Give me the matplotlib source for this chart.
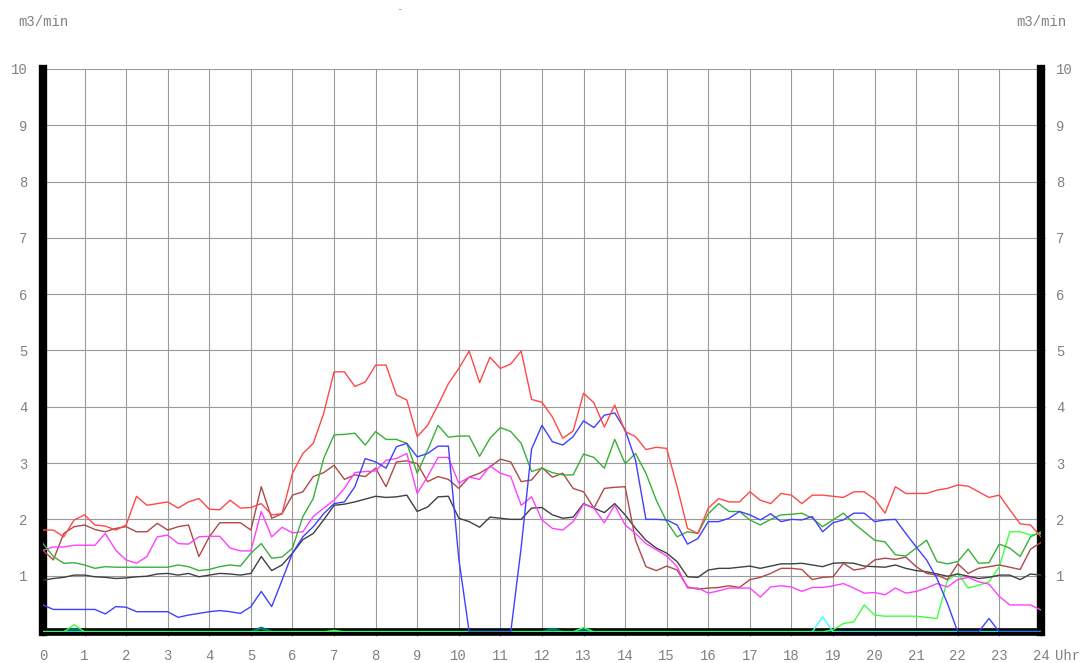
import numpy as np
import matplotlib
matplotlib.use("Agg")
import matplotlib.pyplot as plt

# Zeitachse: Viertelstundenwerte 0..24 Uhr
stunden = np.linspace(0, 24, 97)

rot = [
    1.81, 1.81, 1.69, 1.99,
    2.08, 1.90, 1.88, 1.81,
    1.90, 2.41, 2.25, 2.28,
    2.31, 2.20, 2.31, 2.37,
    2.18, 2.17, 2.34, 2.20,
    2.21, 2.28, 2.08, 2.10,
    2.82, 3.17, 3.35, 3.88,
    4.62, 4.62, 4.36, 4.44,
    4.74, 4.74, 4.21, 4.12,
    3.47, 3.67, 4.03, 4.41,
    4.68, 4.99, 4.43, 4.88,
    4.68, 4.76, 4.99, 4.13,
    4.08, 3.82, 3.44, 3.57,
    4.24, 4.07, 3.64, 4.03,
    3.56, 3.47, 3.24, 3.28,
    3.26, 2.58, 1.84, 1.75,
    2.20, 2.37, 2.31, 2.31,
    2.49, 2.34, 2.28, 2.46,
    2.43, 2.28, 2.43, 2.43,
    2.41, 2.39, 2.49, 2.49,
    2.36, 2.11, 2.58, 2.46,
    2.46, 2.46, 2.52, 2.55,
    2.61, 2.59, 2.49, 2.39,
    2.43, 2.17, 1.92, 1.90,
    1.69,
]

braun = [
    1.45, 1.28, 1.75, 1.87,
    1.90, 1.82, 1.78, 1.84,
    1.87, 1.78, 1.78, 1.93,
    1.81, 1.87, 1.90, 1.34,
    1.69, 1.94, 1.94, 1.94,
    1.81, 2.58, 2.02, 2.10,
    2.43, 2.49, 2.76, 2.83,
    2.96, 2.71, 2.79, 2.76,
    2.91, 2.58, 3.02, 3.04,
    2.99, 2.67, 2.76, 2.71,
    2.55, 2.75, 2.82, 2.93,
    3.07, 3.02, 2.67, 2.70,
    2.92, 2.75, 2.82, 2.55,
    2.49, 2.20, 2.55, 2.57,
    2.58, 1.63, 1.16, 1.09,
    1.17, 1.10, 0.80, 0.76,
    0.78, 0.79, 0.82, 0.79,
    0.93, 0.97, 1.04, 1.13,
    1.13, 1.11, 0.93, 0.97,
    0.98, 1.22, 1.10, 1.13,
    1.28, 1.31, 1.29, 1.33,
    1.16, 1.04, 1.01, 0.93,
    1.21, 1.04, 1.13, 1.16,
    1.19, 1.15, 1.11, 1.47,
    1.59,
]

rosa = [
    1.45, 1.51, 1.51, 1.54,
    1.54, 1.54, 1.75, 1.45,
    1.28, 1.22, 1.34, 1.69,
    1.72, 1.57, 1.56, 1.69,
    1.70, 1.70, 1.49, 1.44,
    1.44, 2.14, 1.69, 1.86,
    1.76, 1.78, 2.05, 2.20,
    2.34, 2.55, 2.83, 2.85,
    2.86, 3.05, 3.08, 3.17,
    2.46, 2.76, 3.10, 3.10,
    2.64, 2.75, 2.71, 2.95,
    2.82, 2.76, 2.25, 2.40,
    1.99, 1.84, 1.81, 1.96,
    2.27, 2.20, 1.94, 2.25,
    1.90, 1.75, 1.57, 1.46,
    1.35, 1.16, 0.78, 0.78,
    0.69, 0.73, 0.78, 0.78,
    0.78, 0.62, 0.80, 0.82,
    0.80, 0.72, 0.79, 0.79,
    0.82, 0.86, 0.78, 0.69,
    0.70, 0.66, 0.78, 0.69,
    0.72, 0.78, 0.86, 0.80,
    0.93, 0.97, 0.89, 0.85,
    0.63, 0.48, 0.48, 0.48,
    0.39,
]

gruen = [
    1.57, 1.34, 1.22, 1.23,
    1.19, 1.13, 1.16, 1.15,
    1.15, 1.15, 1.15, 1.15,
    1.15, 1.19, 1.16, 1.09,
    1.11, 1.16, 1.19, 1.17,
    1.40, 1.57, 1.31, 1.33,
    1.49, 2.05, 2.37, 3.08,
    3.50, 3.51, 3.53, 3.32,
    3.56, 3.42, 3.42, 3.35,
    2.82, 3.23, 3.67, 3.46,
    3.48, 3.48, 3.12, 3.44,
    3.63, 3.56, 3.35, 2.85,
    2.91, 2.83, 2.79, 2.79,
    3.16, 3.10, 2.91, 3.42,
    2.99, 3.17, 2.82, 2.34,
    1.96, 1.69, 1.78, 1.75,
    2.10, 2.28, 2.14, 2.14,
    1.99, 1.90, 2.00, 2.08,
    2.09, 2.11, 2.02, 1.87,
    1.99, 2.11, 1.93, 1.78,
    1.63, 1.60, 1.37, 1.35,
    1.49, 1.63, 1.25, 1.21,
    1.25, 1.47, 1.22, 1.23,
    1.56, 1.49, 1.34, 1.69,
    1.78,
]

schwarz = [
    0.92, 0.95, 0.97, 1.01,
    1.01, 0.98, 0.97, 0.95,
    0.96, 0.98, 0.99, 1.03,
    1.04, 1.01, 1.04, 0.98,
    1.01, 1.04, 1.03, 1.01,
    1.04, 1.34, 1.09, 1.19,
    1.40, 1.64, 1.75, 1.99,
    2.25, 2.27, 2.31, 2.36,
    2.41, 2.39, 2.40, 2.43,
    2.14, 2.22, 2.40, 2.41,
    2.02, 1.96, 1.86, 2.04,
    2.02, 2.00, 2.00, 2.20,
    2.21, 2.08, 2.02, 2.04,
    2.28, 2.20, 2.12, 2.28,
    2.08, 1.84, 1.63, 1.49,
    1.40, 1.25, 0.98, 0.97,
    1.10, 1.13, 1.13, 1.15,
    1.17, 1.13, 1.17, 1.21,
    1.21, 1.22, 1.19, 1.16,
    1.22, 1.23, 1.22, 1.17,
    1.16, 1.15, 1.19, 1.13,
    1.09, 1.07, 1.03, 0.99,
    1.03, 0.99, 0.95, 0.97,
    1.01, 1.01, 0.93, 1.03,
    1.01,
]

blau = [
    0.48, 0.40, 0.40, 0.40,
    0.40, 0.40, 0.32, 0.45,
    0.44, 0.36, 0.36, 0.36,
    0.36, 0.26, 0.30, 0.33,
    0.36, 0.38, 0.36, 0.33,
    0.45, 0.72, 0.45, 0.92,
    1.40, 1.69, 1.87, 2.10,
    2.28, 2.31, 2.58, 3.08,
    3.02, 2.91, 3.29, 3.35,
    3.11, 3.17, 3.30, 3.30,
    1.30, 0.00, 0.00, 0.00,
    0.00, 0.00, 1.50, 3.25,
    3.67, 3.38, 3.32, 3.47,
    3.75, 3.63, 3.85, 3.89,
    3.59, 3.05, 2.00, 2.00,
    1.99, 1.90, 1.56, 1.66,
    1.96, 1.96, 2.02, 2.14,
    2.08, 1.99, 2.10, 1.96,
    2.00, 1.99, 2.05, 1.78,
    1.94, 1.99, 2.11, 2.11,
    1.96, 1.99, 2.00, 1.75,
    1.51, 1.28, 0.95, 0.51,
    0.00, 0.00, 0.00, 0.24,
    0.00, 0.00, 0.00, 0.00,
    0.00,
]

hellgruen = [
    0.00, 0.00, 0.00, 0.13,
    0.00, 0.00, 0.00, 0.00,
    0.00, 0.00, 0.00, 0.00,
    0.00, 0.00, 0.00, 0.00,
    0.00, 0.00, 0.00, 0.00,
    0.00, 0.00, 0.00, 0.00,
    0.00, 0.00, 0.00, 0.00,
    0.03, 0.00, 0.00, 0.00,
    0.00, 0.00, 0.00, 0.00,
    0.00, 0.00, 0.00, 0.00,
    0.00, 0.00, 0.00, 0.00,
    0.00, 0.00, 0.00, 0.00,
    0.00, 0.00, 0.00, 0.00,
    0.08, 0.00, 0.00, 0.00,
    0.00, 0.00, 0.00, 0.00,
    0.00, 0.00, 0.00, 0.00,
    0.00, 0.00, 0.00, 0.00,
    0.00, 0.00, 0.00, 0.00,
    0.00, 0.00, 0.00, 0.00,
    0.04, 0.15, 0.18, 0.48,
    0.30, 0.28, 0.28, 0.28,
    0.28, 0.26, 0.24, 0.92,
    1.04, 0.78, 0.83, 0.89,
    1.16, 1.78, 1.78, 1.72,
    1.75,
]

cyan = [
    0.00, 0.00, 0.00, 0.00,
    0.00, 0.00, 0.00, 0.00,
    0.00, 0.00, 0.00, 0.00,
    0.00, 0.00, 0.00, 0.00,
    0.00, 0.00, 0.00, 0.00,
    0.00, 0.00, 0.00, 0.00,
    0.00, 0.00, 0.00, 0.00,
    0.00, 0.00, 0.00, 0.00,
    0.00, 0.00, 0.00, 0.00,
    0.00, 0.00, 0.00, 0.00,
    0.00, 0.00, 0.00, 0.00,
    0.00, 0.00, 0.00, 0.00,
    0.00, 0.00, 0.00, 0.00,
    0.00, 0.00, 0.00, 0.00,
    0.00, 0.00, 0.00, 0.00,
    0.00, 0.00, 0.00, 0.00,
    0.00, 0.00, 0.00, 0.00,
    0.00, 0.00, 0.00, 0.00,
    0.00, 0.00, 0.00, 0.27,
    0.00, 0.00, 0.00, 0.00,
    0.00, 0.00, 0.00, 0.00,
    0.00, 0.00, 0.00, 0.00,
    0.00, 0.00, 0.00, 0.00,
    0.00, 0.00, 0.00, 0.00,
    0.00,
]

tuerkis = [
    0.00, 0.00, 0.00, 0.05,
    0.00, 0.00, 0.00, 0.00,
    0.00, 0.00, 0.00, 0.00,
    0.00, 0.00, 0.00, 0.00,
    0.00, 0.00, 0.00, 0.00,
    0.00, 0.07, 0.00, 0.00,
    0.00, 0.00, 0.00, 0.00,
    0.00, 0.00, 0.00, 0.00,
    0.00, 0.00, 0.00, 0.00,
    0.00, 0.00, 0.00, 0.00,
    0.00, 0.00, 0.00, 0.00,
    0.00, 0.00, 0.00, 0.00,
    0.00, 0.05, 0.00, 0.00,
    0.05, 0.00, 0.00, 0.00,
    0.00, 0.00, 0.00, 0.00,
    0.00, 0.00, 0.00, 0.00,
    0.00, 0.00, 0.00, 0.00,
    0.00, 0.00, 0.00, 0.00,
    0.00, 0.00, 0.00, 0.00,
    0.00, 0.00, 0.00, 0.00,
    0.00, 0.00, 0.00, 0.00,
    0.00, 0.00, 0.00, 0.00,
    0.00, 0.00, 0.00, 0.00,
    0.00, 0.00, 0.00, 0.00,
    0.00,
]

# dunkelgruen gibt es nur bis 18:15 Uhr
dunkelgruen = [0.0] * 74

x_labels = [str(h) for h in range(25)]
y_labels = [str(v) for v in range(1, 11)]

schrift = "Liberation Mono"
grau = "#808080"

fig = plt.figure(figsize=(10.85, 6.63), dpi=100)
ax = fig.add_axes([0.0396, 0.0468, 0.9198, 0.8492])

ax.set_xlim(0, 24)
ax.set_ylim(0, 10)
ax.set_xticks(range(25))
ax.set_xticklabels(x_labels)
ax.set_yticks(range(1, 11))
ax.set_yticklabels(y_labels)
ax.grid(True, color="#9a9a9a", linewidth=0.8)
ax.set_axisbelow(True)

ax.plot(stunden, tuerkis, color="#007878", lw=2.0, zorder=3)
ax.plot(stunden[:len(dunkelgruen)], dunkelgruen, color="#006400", lw=2.4, zorder=3.5)
ax.plot(stunden, cyan, color="#40ffff", lw=1.0, zorder=4)
ax.plot(stunden, hellgruen, color="#40ff40", lw=1.0, zorder=4)
ax.plot(stunden, schwarz, color="#404040", lw=1.0, zorder=4)
ax.plot(stunden, braun, color="#b04848", lw=1.0, zorder=4)
ax.plot(stunden, rosa, color="#ff40ff", lw=1.0, zorder=4)
ax.plot(stunden, gruen, color="#38b038", lw=1.0, zorder=4)
ax.plot(stunden, blau, color="#4040ff", lw=1.0, zorder=4)
ax.plot(stunden, rot, color="#ff4848", lw=1.0, zorder=4)

ax.spines["top"].set_visible(False)
for seite in ["left", "right"]:
    ax.spines[seite].set_linewidth(6)
    ax.spines[seite].set_color("black")
ax.spines["bottom"].set_linewidth(5.5)
ax.spines["bottom"].set_color("black")
ax.spines["bottom"].set_zorder(2.5)

ax.tick_params(axis="x", length=3, pad=9, color=grau, labelcolor=grau,
               labelsize=10)
ax.tick_params(axis="y", length=3, pad=8, color=grau, labelcolor=grau,
               labelsize=10, right=True, labelright=True)
for lbl in ax.get_xticklabels() + ax.get_yticklabels():
    lbl.set_fontfamily(schrift)
for t in ax.yaxis.get_major_ticks():
    t.label2.set_fontfamily(schrift)

fig.text(18 / 1085, 1 - 22 / 663, "m3/min", family=schrift, color=grau,
         fontsize=10, ha="left", va="center")
fig.text(1067 / 1085, 1 - 22 / 663, "m3/min", family=schrift, color=grau,
         fontsize=10, ha="right", va="center")
fig.text(1055 / 1085, 1 - 656 / 663, "Uhr", family=schrift, color=grau,
         fontsize=10, ha="left", va="center")
fig.text(400 / 1085, 1 - 9 / 663, "-", family=schrift, color="#999999",
         fontsize=8, ha="center", va="center")

fig.savefig("out.png", dpi=100)
